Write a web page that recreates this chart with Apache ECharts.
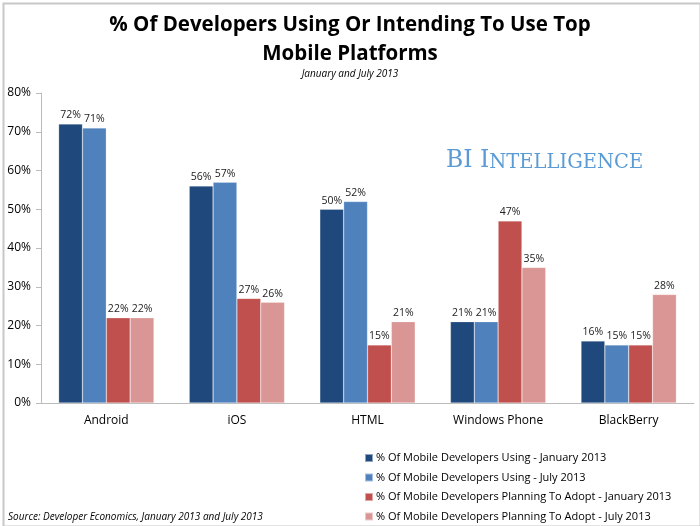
<!DOCTYPE html>
<html><head><meta charset="utf-8">
<script src="https://cdn.jsdelivr.net/npm/echarts@6/dist/echarts.min.js"></script>
<style>html,body{margin:0;padding:0;background:#fff}#c{width:700px;height:526px}</style>
</head><body><div id="c"></div>
<script>
const categories = ['Android', 'iOS', 'HTML', 'Windows Phone', 'BlackBerry'];
const usingJan = [72, 56, 50, 21, 16];
const usingJul = [71, 57, 52, 21, 15];
const adoptJan = [22, 27, 15, 47, 15];
const adoptJul = [22, 26, 21, 35, 28];
const seriesNames = [
  '% Of Mobile Developers Using - January 2013',
  '% Of Mobile Developers Using - July 2013',
  '% Of Mobile Developers Planning To Adopt - January 2013',
  '% Of Mobile Developers Planning To Adopt - July 2013'
];
const colors = ['#1f497d', '#4f81bd', '#c0504d', '#d99694'];
const yTicks = [0, 10, 20, 30, 40, 50, 60, 70, 80];

const font = "'Open Sans', 'Liberation Sans', sans-serif";
const chart = echarts.init(document.getElementById('c'));
const data = [usingJan, usingJul, adoptJan, adoptJul];
chart.setOption({
  animation: false,
  color: colors,
  title: [{
    text: '% Of Developers Using Or Intending To Use Top\nMobile Platforms',
    left: 'center', top: 6,
    textStyle: {fontFamily: font, fontSize: 20.5, fontWeight: 'bold', color: '#000', lineHeight: 29}
  }, {
    text: 'January and July 2013',
    left: 'center', top: 64,
    textStyle: {fontFamily: font, fontSize: 10, fontStyle: 'italic', fontWeight: 'normal', color: '#000'}
  }],
  grid: {left: 41, right: 6, top: 93, bottom: 123},
  legend: {
    orient: 'vertical', left: 364, top: 451, padding: 0,
    itemWidth: 8, itemHeight: 8, itemGap: 5.5,
    icon: 'rect',
    textStyle: {fontFamily: font, fontSize: 11, lineHeight: 14, color: '#000', padding: [0, 0, 0, -2]},
    data: seriesNames
  },
  xAxis: {
    type: 'category', data: categories,
    axisLine: {lineStyle: {color: '#bbb'}},
    axisTick: {lineStyle: {color: '#bbb'}, length: 5},
    axisLabel: {fontFamily: font, fontSize: 12, color: '#000', margin: 12}
  },
  yAxis: {
    type: 'value', min: yTicks[0], max: yTicks[yTicks.length - 1], interval: 10,
    axisLine: {show: true, lineStyle: {color: '#bbb'}},
    axisTick: {show: true, lineStyle: {color: '#bbb'}, length: 5},
    splitLine: {show: false},
    axisLabel: {fontFamily: font, fontSize: 12, color: '#000', formatter: '{value}%', margin: 10}
  },
  graphic: [{
    type: 'rect', left: 1, top: 1, shape: {width: 697, height: 523},
    style: {fill: 'none', stroke: '#c8c8c8', lineWidth: 2}, silent: true
  }, {
    type: 'text', left: 446, top: 149,
    style: {
      text: '{a|BI I}{b|NTELLIGENCE}',
      rich: {
        a: {fontFamily: "'DejaVu Serif', serif", fontSize: 23.5, fill: '#5b9bd5', verticalAlign: 'bottom', lineHeight: 25},
        b: {fontFamily: "'DejaVu Serif', serif", fontSize: 19.5, fill: '#5b9bd5', verticalAlign: 'bottom', lineHeight: 25}
      }
    }
  }, {
    type: 'text', left: 8, top: 512,
    style: {text: 'Source: Developer Economics, January 2013 and July 2013', fontFamily: font, fontSize: 10, fontStyle: 'italic', fill: '#000'}
  }],
  series: data.map((d, i) => ({
    name: seriesNames[i], type: 'bar', data: d,
    barGap: '0%', barCategoryGap: '27%',
    itemStyle: {borderColor: 'rgba(255,255,255,0.5)', borderWidth: 0.5},
    label: {show: true, position: 'top', formatter: '{c}%', fontFamily: font, fontSize: 10.5, color: '#222', distance: 3}
  }))
});
</script></body></html>
